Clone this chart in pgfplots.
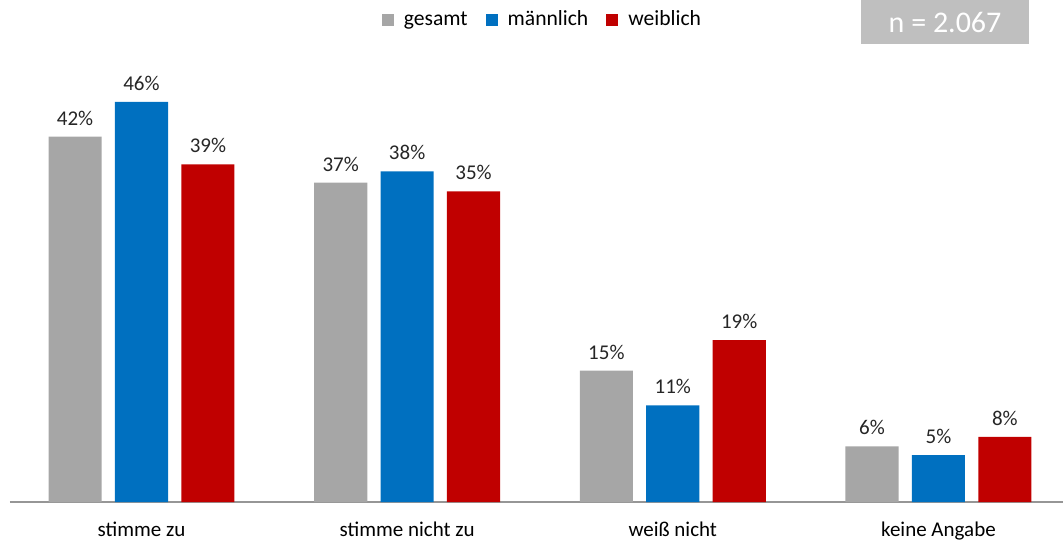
\documentclass[border=0pt]{standalone}
\usepackage{fontspec}
\setmainfont{Carlito}
\usepackage{pgfplots}
\pgfplotsset{compat=1.18}
\usepackage{pgfplotstable}
\definecolor{cgray}{RGB}{166,166,166}
\definecolor{cblue}{RGB}{0,112,192}
\definecolor{cred}{RGB}{192,0,0}
\definecolor{boxgray}{RGB}{191,191,191}
\definecolor{axgray}{RGB}{150,150,150}
\pgfplotstableread{
x y lab
0 42.0 42
1 36.7 37
2 15.1 15
3 6.4 6
}\gesamt
\pgfplotstableread{
x y lab
0 46.0 46
1 38.0 38
2 11.1 11
3 5.4 5
}\maennlich
\pgfplotstableread{
x y lab
0 38.8 39
1 35.7 35
2 18.6 19
3 7.5 8
}\weiblich
\begin{document}
\fontsize{10.5}{12.6}\selectfont
\begin{tikzpicture}
\begin{axis}[
  scale only axis,
  width=526.5pt, height=251pt,
  xmin=-0.495, xmax=3.469,
  ymin=0, ymax=57.7,
  axis y line=none,
  axis x line*=bottom,
  x axis line style={draw=axgray,-, line width=0.8pt},
  xtick={0,1,2,3},
  xticklabels={stimme zu, stimme nicht zu, weiß nicht, keine Angabe},
  xtick style={draw=none},
  xticklabel style={font=\fontsize{10.5}{12.6}\selectfont, yshift=-2pt},
  ybar, bar width=0.2,
  /pgf/number format/assume math mode=true,
  point meta=explicit,
  nodes near coords={\pgfmathprintnumber{\pgfplotspointmeta}\%},
  nodes near coords style={font=\fontsize{10.5}{12.6}\selectfont, text=black!85, yshift=2pt},
  legend columns=3,
  legend style={draw=none, fill=none, at={(0.5066,0.96)}, anchor=center,
    font=\fontsize{10.8}{12.6}\selectfont, column sep=3pt,
    /tikz/every even column/.append style={column sep=7pt}},
  legend image code/.code={\fill[#1] (2pt,-3pt) rectangle (8pt,3pt);},
]
\addplot[fill=cgray, draw=none, bar shift=-0.25] table[x=x, y=y, meta=lab] {\gesamt};
\addlegendentry{gesamt}
\addplot[fill=cblue, draw=none, bar shift=0] table[x=x, y=y, meta=lab] {\maennlich};
\addlegendentry{männlich}
\addplot[fill=cred, draw=none, bar shift=0.25] table[x=x, y=y, meta=lab] {\weiblich};
\addlegendentry{weiblich}
\node[fill=boxgray, text=white, minimum width=84pt, minimum height=22pt, anchor=north,
  font=\fontsize{15}{18}\selectfont, inner sep=0pt] at (axis description cs:0.888,1) {n = 2.067};
\end{axis}
\pgfresetboundingbox
\path (-5pt,-20pt) rectangle (526.5pt,251pt);
\end{tikzpicture}
\end{document}
